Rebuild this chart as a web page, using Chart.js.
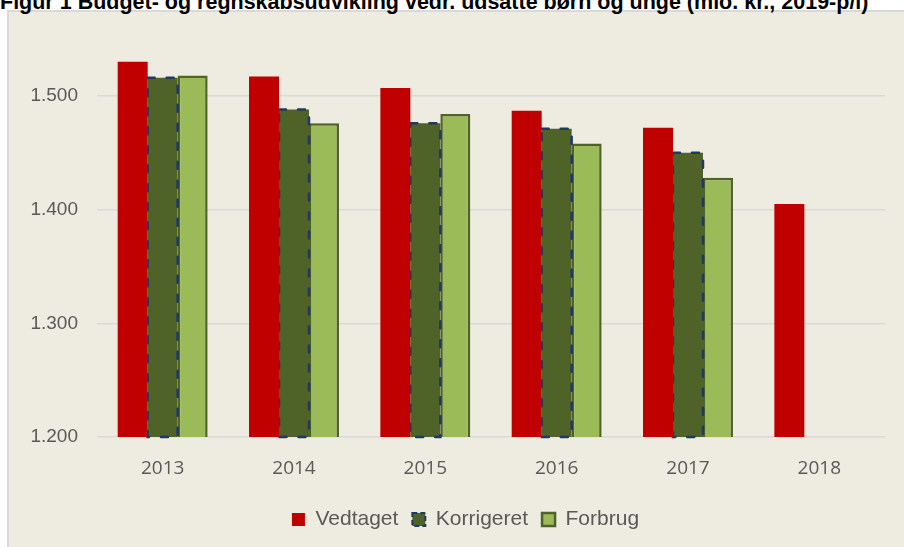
<!DOCTYPE html>
<html>
<head>
<meta charset="utf-8">
<script src="https://cdn.jsdelivr.net/npm/chart.js@4/dist/chart.umd.min.js"></script>
<style>
  html, body { margin: 0; padding: 0; background: #fff; }
  #wrap { position: relative; width: 904px; height: 547px; overflow: hidden; }
  #panel { position: absolute; left: 7px; top: 10px; right: 0; bottom: 0;
           background: #eeebe0; border-left: 2px solid #d9d9d9; border-top: 2px solid #d9d9d9; }
  #title { position: absolute; left: 0; top: -10px; line-height: 21px; white-space: nowrap;
           font: bold 21.5px "Liberation Sans", Arial, sans-serif; color: #000; }
  #chart { position: absolute; left: 0; top: 0; }
</style>
</head>
<body>
<div id="wrap">
  <div id="panel"></div>
  <div id="title">Figur 1 Budget- og regnskabsudvikling vedr. udsatte børn og unge (mio. kr., 2019-p/l)</div>
  <canvas id="chart" width="904" height="547"></canvas>
</div>
<script>
// 데이터
var years      = ["2013", "2014", "2015", "2016", "2017", "2018"];
var vedtaget   = [1530, 1517, 1507, 1487, 1472, 1405];
var korrigeret = [1516, 1488, 1476, 1471, 1450, null];
var forbrug    = [1518, 1476, 1484, 1458, 1428, null];
var yTicks     = [1200, 1300, 1400, 1500];

function fmtDa(v){
    return String(v).replace(/\B(?=(\d{3})+$)/g, ".");
}

// Korrigeret 점선 테두리
var dashedBorder = {
    id: "dashedBorder",
    afterDatasetDraw: function(chart, args){
        if(args.index != 1) return;
        var ctx = chart.ctx;
        var area = chart.chartArea;
        ctx.save();
        ctx.strokeStyle = "#1f3864";
        ctx.lineWidth = 2.5;
        ctx.lineCap = "round";
        ctx.setLineDash([7, 12]);
        args.meta.data.forEach(function(el, i){
            if(korrigeret[i] == null) return;
            var p = el.getProps(["x", "y", "base", "width"], true);
            var bottom = Math.min(p.base, area.bottom);
            ctx.strokeRect(p.x - p.width/2, p.y, p.width, bottom - p.y);
        });
        ctx.restore();
    }
};

// 범례 위치 보정 (패널 기준 중앙)
var legendShift = {
    id: "legendShift",
    afterLayout: function(chart){
        if(chart.legend){
            chart.legend.left += 23;
            chart.legend.right += 23;
        }
    }
};

var ctx = document.getElementById("chart").getContext("2d");
new Chart(ctx, {
    type: "bar",
    data: {
        labels: years,
        datasets: [
            { label: "Vedtaget", data: vedtaget, backgroundColor: "#c00000", borderWidth: 0 },
            { label: "Korrigeret", data: korrigeret, backgroundColor: "#4f6228", borderWidth: 0 },
            { label: "Forbrug", data: forbrug, backgroundColor: "#9bbb59", borderColor: "#4f6228",
              borderWidth: 2.5, borderSkipped: false }
        ]
    },
    options: {
        responsive: false,
        animation: false,
        layout: { padding: { left: 0, right: 19, top: 39, bottom: 7 } },
        datasets: { bar: { categoryPercentage: 0.685, barPercentage: 1.0 } },
        scales: {
            x: {
                grid: { display: false },
                border: { display: false },
                ticks: { color: "#595959", font: { family: "'Open Sans'", size: 19 }, padding: 12 },
                afterFit: function(scale){ scale.height = 58; }
            },
            y: {
                min: 1200,
                max: 1550,
                border: { display: false },
                grid: { color: "#d9d9d9", lineWidth: 1.5, drawTicks: false },
                ticks: {
                    color: "#595959",
                    font: { family: "'Liberation Sans'", size: 19 },
                    padding: 19,
                    callback: function(v){ return fmtDa(v); }
                },
                afterBuildTicks: function(scale){
                    scale.ticks = yTicks.map(function(v){ return { value: v }; });
                },
                afterFit: function(scale){ scale.width = 97; }
            }
        },
        plugins: {
            legend: {
                position: "bottom",
                labels: {
                    color: "#595959",
                    font: { family: "'Liberation Sans'", size: 21 },
                    boxWidth: 13,
                    boxHeight: 13,
                    padding: 14,
                    generateLabels: function(chart){
                        var items = Chart.defaults.plugins.legend.labels.generateLabels(chart);
                        items[0].lineWidth = 0;
                        items[1].strokeStyle = "#1f3864";
                        items[1].lineWidth = 2;
                        items[1].lineDash = [5, 3];
                        return items;
                    }
                }
            },
            tooltip: { enabled: false }
        }
    },
    plugins: [dashedBorder, legendShift]
});
</script>
</body>
</html>
